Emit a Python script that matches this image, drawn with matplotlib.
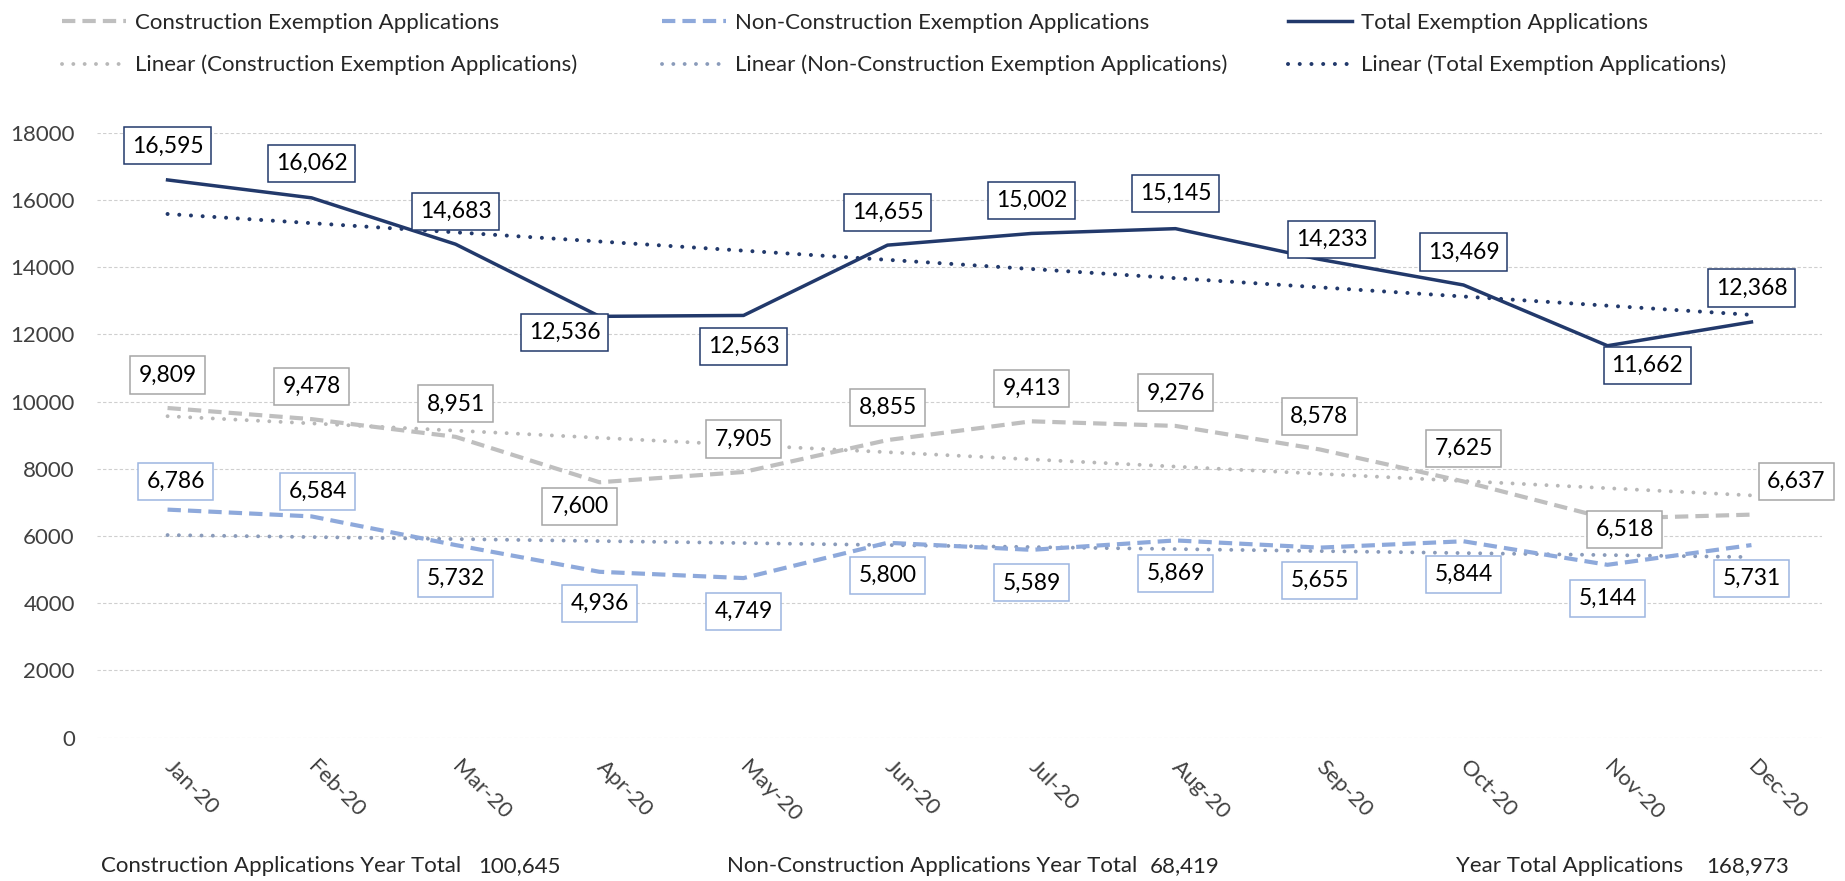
import numpy as np
import matplotlib.pyplot as plt

plt.rcParams['font.family'] = ['Lato', 'DejaVu Sans']

W, H = 1845, 881

months = ['Jan-20', 'Feb-20', 'Mar-20', 'Apr-20', 'May-20', 'Jun-20',
          'Jul-20', 'Aug-20', 'Sep-20', 'Oct-20', 'Nov-20', 'Dec-20']
construction = [9809, 9478, 8951, 7600, 7905, 8855, 9413, 9276, 8578, 7625, 6518, 6637]
non_construction = [6786, 6584, 5732, 4936, 4749, 5800, 5589, 5869, 5655, 5844, 5144, 5731]
total = [16595, 16062, 14683, 12536, 12563, 14655, 15002, 15145, 14233, 13469, 11662, 12368]

NAVY = '#22396B'
GRAY = '#BFBFBF'
LBLUE = '#8EA9DB'
TXT = '#262626'

# label offsets in pixels (dx, dy up)
off_total = [(0, 34), (0, 34), (0, 33), (-35, -16), (0, -31), (0, 33),
             (0, 33), (0, 35), (12, 20), (0, 33), (40, -20), (0, 34)]
off_con = [(0, 33), (0, 33), (0, 33), (-20, -24), (0, 33), (0, 33),
           (0, 33), (0, 33), (0, 33), (0, 33), (17, -11), (45, 33)]
off_non = [(8, 28), (6, 25), (0, -33), (0, -32), (0, -33), (0, -33),
           (0, -33), (0, -33), (0, -33), (0, -33), (0, -34), (0, -33)]

fig = plt.figure(figsize=(W / 100, H / 100), dpi=100)
ax = fig.add_axes([97 / W, 1 - 737.7 / H, (1822 - 97) / W, (737.7 - 132.7) / H])

x = np.arange(len(months))

# trend lines (linear fit like excel)
def trend(vals):
    k, b = np.polyfit(x, vals, 1)
    return k * x + b

dot = (0, (0.01, 2.9))
l_tc, = ax.plot(x, trend(construction), color='#B8B8B8', lw=2.8, ls=dot,
                dash_capstyle='round', zorder=2)
l_tn, = ax.plot(x, trend(non_construction), color='#8A9BBA', lw=2.8, ls=dot,
                dash_capstyle='round', zorder=2)
l_tt, = ax.plot(x, trend(total), color=NAVY, lw=2.9, ls=dot,
                dash_capstyle='round', zorder=2)

dash = (0, (3.2, 1.7))
l_c, = ax.plot(x, construction, color=GRAY, lw=3.0, ls=dash, zorder=3)
l_n, = ax.plot(x, non_construction, color=LBLUE, lw=3.0, ls=dash, zorder=3)
l_t, = ax.plot(x, total, color=NAVY, lw=2.5, zorder=4)

def labels(vals, offs, ec):
    for i, (v, (dx, dy)) in enumerate(zip(vals, offs)):
        ax.annotate(f'{v:,}', (i, v), xytext=(dx * 0.72, dy * 0.72),
                    textcoords='offset points', ha='center', va='center',
                    fontsize=16.5, color='black', zorder=6,
                    bbox=dict(boxstyle='square,pad=0.35', fc='white', ec=ec, lw=1.1))

labels(construction, off_con, '#A6A6A6')
labels(non_construction, off_non, '#9DB5E0')
labels(total, off_total, NAVY)

ax.set_xlim(-0.49, 11.49)
ax.set_ylim(0, 18000)
ax.set_yticks(range(0, 18001, 2000))
ax.set_xticks(x)
ax.set_xticklabels(months, rotation=-45, ha='left', va='center',
                   rotation_mode='anchor')
ax.tick_params(axis='both', length=0, labelsize=16, labelcolor='#404040')
ax.tick_params(axis='y', pad=16)
ax.tick_params(axis='x', pad=19)
ax.yaxis.grid(True, color='#CFCFCF', lw=0.8, ls=(0, (3, 2)))
ax.set_axisbelow(True)
for s in ax.spines.values():
    s.set_visible(False)

# legend, three columns
cols = [([l_c, l_tc], ['Construction Exemption Applications',
                       'Linear (Construction Exemption Applications)'], 62),
        ([l_n, l_tn], ['Non-Construction Exemption Applications',
                       'Linear (Non-Construction Exemption Applications)'], 662),
        ([l_t, l_tt], ['Total Exemption Applications',
                       'Linear (Total Exemption Applications)'], 1288)]
for hs, ls, x0 in cols:
    fig.legend(hs, ls, loc='center left', bbox_to_anchor=(x0 / W, 1 - 44 / H),
               frameon=False, fontsize=16, handlelength=2.9, handletextpad=0.4,
               labelspacing=1.0, borderpad=0, borderaxespad=0, labelcolor=TXT)

# year totals under the chart
summary = [('Construction Applications Year Total', sum(construction), 101, 478),
           ('Non-Construction Applications Year Total', sum(non_construction), 727, 1150),
           ('Year Total Applications', sum(total), 1456, 1706)]
for name, val, xl, xv in summary:
    fig.text(xl / W, 1 - 866 / H, name, fontsize=16, color=TXT, va='center')
    fig.text(xv / W, 1 - 866 / H, f'{val:,}', fontsize=16, color=TXT, va='center')

fig.savefig('out.png', dpi=100)
